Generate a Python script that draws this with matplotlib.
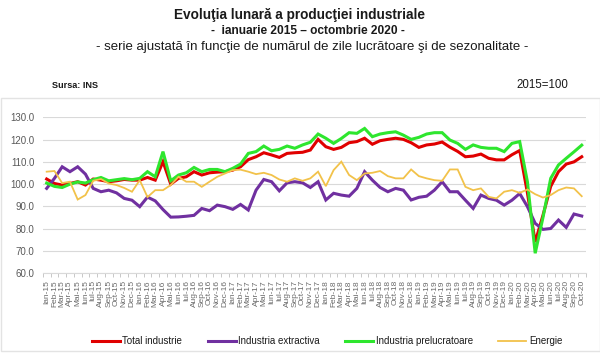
import matplotlib
matplotlib.use("Agg")
import matplotlib.pyplot as plt
from matplotlib.patches import Rectangle
from matplotlib.ticker import FixedLocator, MultipleLocator
import numpy as np

plt.rcParams['font.family'] = ['Liberation Sans', 'DejaVu Sans']

months = ["Ian", "Feb", "Mar", "Apr", "Mai", "Iun", "Iul", "Aug", "Sep", "Oct", "Nov", "Dec"]
years = ["15", "16", "17", "18", "19", "20"]
labels = [f"{m}-{y}" for y in years for m in months][:70]

total_industrie = [102.3, 100.3, 99.6, 100.3, 101.1, 99.6, 102.3, 101.8, 101.1, 101.5, 102.1, 101.8,
                   101.8, 103.0, 101.8, 110.1, 100.0, 102.6, 103.3, 105.6, 104.1, 105.1, 105.4, 105.6,
                   106.3, 107.8, 111.0, 112.3, 114.1, 113.1, 112.0, 113.8, 114.1, 114.3, 115.3, 120.1,
                   116.8, 115.6, 116.5, 118.6, 119.1, 120.6, 117.9, 119.5, 120.1, 120.6, 120.1, 118.6,
                   116.5, 117.6, 118.0, 118.9, 116.6, 114.7, 112.3, 112.6, 113.5, 111.6, 110.9, 110.9,
                   113.2, 115.1, 96.0, 74.0, 86.0, 99.0, 105.6, 109.0, 110.0, 112.3]
industria_extractiva = [98.1, 102.6, 107.8, 105.6, 107.8, 104.5, 98.1, 96.6, 97.3, 96.1, 93.6, 92.8,
                        89.9, 94.2, 92.5, 88.6, 85.2, 85.3, 85.6, 86.0, 89.1, 88.1, 90.6, 89.9,
                        88.7, 90.9, 88.4, 97.3, 102.1, 101.1, 97.0, 100.6, 101.1, 100.6, 98.5, 101.1,
                        92.9, 95.9, 95.1, 94.6, 98.1, 105.6, 101.8, 98.5, 96.6, 98.1, 97.3, 92.9,
                        94.1, 94.6, 97.3, 101.1, 96.6, 96.6, 92.8, 89.1, 95.1, 93.6, 92.8, 90.6,
                        92.8, 95.8, 89.9, 82.4, 79.7, 80.1, 83.9, 80.6, 86.6, 85.7]
industria_prelucratoare = [100.5, 99.0, 98.5, 100.0, 101.0, 100.5, 102.0, 103.0, 101.5, 102.0, 102.5, 102.0,
                           102.6, 105.6, 103.3, 114.6, 101.5, 104.1, 105.1, 107.5, 105.6, 106.6, 106.6, 105.6,
                           107.1, 109.0, 113.8, 114.6, 117.1, 115.0, 115.6, 117.1, 116.1, 117.6, 118.8, 122.5,
                           120.6, 118.3, 120.5, 123.1, 122.8, 125.0, 121.3, 122.5, 123.1, 123.5, 122.0, 120.1,
                           121.0, 122.5, 123.1, 123.1, 119.8, 118.3, 115.6, 117.6, 116.5, 116.1, 116.1, 114.6,
                           118.3, 119.1, 101.0, 69.0, 85.0, 102.6, 108.6, 111.6, 114.5, 117.5]
energie = [105.6, 105.9, 100.5, 101.1, 93.1, 95.1, 101.5, 102.3, 100.3, 99.6, 98.3, 96.6,
           101.8, 94.2, 97.3, 97.3, 99.6, 103.3, 101.1, 101.1, 98.8, 101.1, 103.3, 104.8,
           106.3, 106.5, 105.6, 104.5, 105.1, 104.1, 102.1, 101.1, 102.6, 101.5, 102.6, 105.6,
           99.1, 106.3, 110.1, 104.1, 101.8, 104.8, 105.1, 105.9, 103.6, 102.6, 102.6, 106.6,
           103.6, 102.6, 101.8, 101.5, 106.6, 106.6, 98.8, 97.3, 98.1, 94.3, 93.6, 96.6,
           97.3, 96.1, 97.6, 95.5, 94.0, 95.1, 97.3, 98.5, 98.1, 94.6]

series_names = ["Total industrie", "Industria extractiva", "Industria prelucratoare", "Energie"]
series_values = [total_industrie, industria_extractiva, industria_prelucratoare, energie]
series_colors = ["#E00000", "#7030A0", "#2EE62E", "#F2C24A"]
series_widths = [2.2, 2.2, 2.2, 1.3]

W, H = 600, 353
fig = plt.figure(figsize=(6.0, 3.53), dpi=100)
fig.patch.set_facecolor("white")

# outer chart border
fig.add_artist(Rectangle((0.5 / W, 2 / H), 599 / W, (351 - 98) / H, transform=fig.transFigure,
                         fill=False, edgecolor="#e3e3e3", linewidth=1.0))

left, right = 42.8 / W, 585.6 / W
bottom, top = 1 - 273.3 / H, 1 - 117.3 / H
ax = fig.add_axes([left, bottom, right - left, top - bottom])

x = np.arange(len(labels))
handles = []
for name, vals, col, lw in zip(series_names, series_values, series_colors, series_widths):
    h, = ax.plot(x, vals, color=col, linewidth=lw, label=name, solid_joinstyle="miter")
    handles.append(h)

ax.set_xlim(-0.5, len(labels) - 0.5)
ax.set_ylim(60, 130)
ax.yaxis.set_major_locator(MultipleLocator(10))
ax.set_yticklabels([f"{v:.1f}" for v in ax.get_yticks()])
ax.grid(axis="y", color="#d9d9d9", linewidth=0.8)
ax.set_axisbelow(True)

ax.set_xticks(x)
ax.set_xticklabels(labels, rotation=90, fontsize=6, color="#6a6a6a")
ax.xaxis.set_minor_locator(FixedLocator(np.arange(-0.5, len(labels), 1.0)))
ax.tick_params(axis="x", which="major", length=0, pad=5)
ax.tick_params(axis="x", which="minor", length=3, color="#bfbfbf", width=0.6)
ax.tick_params(axis="y", length=0, labelsize=7, labelcolor="#595959", pad=6)

for s in ["top", "right", "left"]:
    ax.spines[s].set_visible(False)
ax.spines["bottom"].set_color("#d9d9d9")
ax.spines["bottom"].set_linewidth(0.8)

# header texts
fig.text(300 / W, 1 - 15 / H, "Evoluţia lunară a producţiei industriale", ha="center", va="center",
         fontsize=9.8, fontweight="bold", color="#1a1a1a")
fig.text(308 / W, 1 - 31 / H, "-  ianuarie 2015 – octombrie 2020 -", ha="center", va="center",
         fontsize=8.6, fontweight="bold", color="#1a1a1a")
fig.text(312 / W, 1 - 47 / H,
         "- serie ajustată în funcţie de numărul de zile lucrătoare şi de sezonalitate -",
         ha="center", va="center", fontsize=9.5, color="#1a1a1a")
fig.text(52 / W, 1 - 86 / H, "Sursa: INS", ha="left", va="center", fontsize=6.6,
         fontweight="bold", color="#1a1a1a")
fig.text(568 / W, 1 - 85 / H, "2015=100", ha="right", va="center", fontsize=8.3, color="#1a1a1a")

fig.legend(handles=handles, labels=series_names, loc="center", ncol=4,
           bbox_to_anchor=(327 / W, 1 - 341 / H), frameon=False, fontsize=7,
           handlelength=2.9, handletextpad=0.25, columnspacing=2.6,
           labelcolor="#1a1a1a")

fig.savefig("out.png", dpi=100, facecolor="white")
